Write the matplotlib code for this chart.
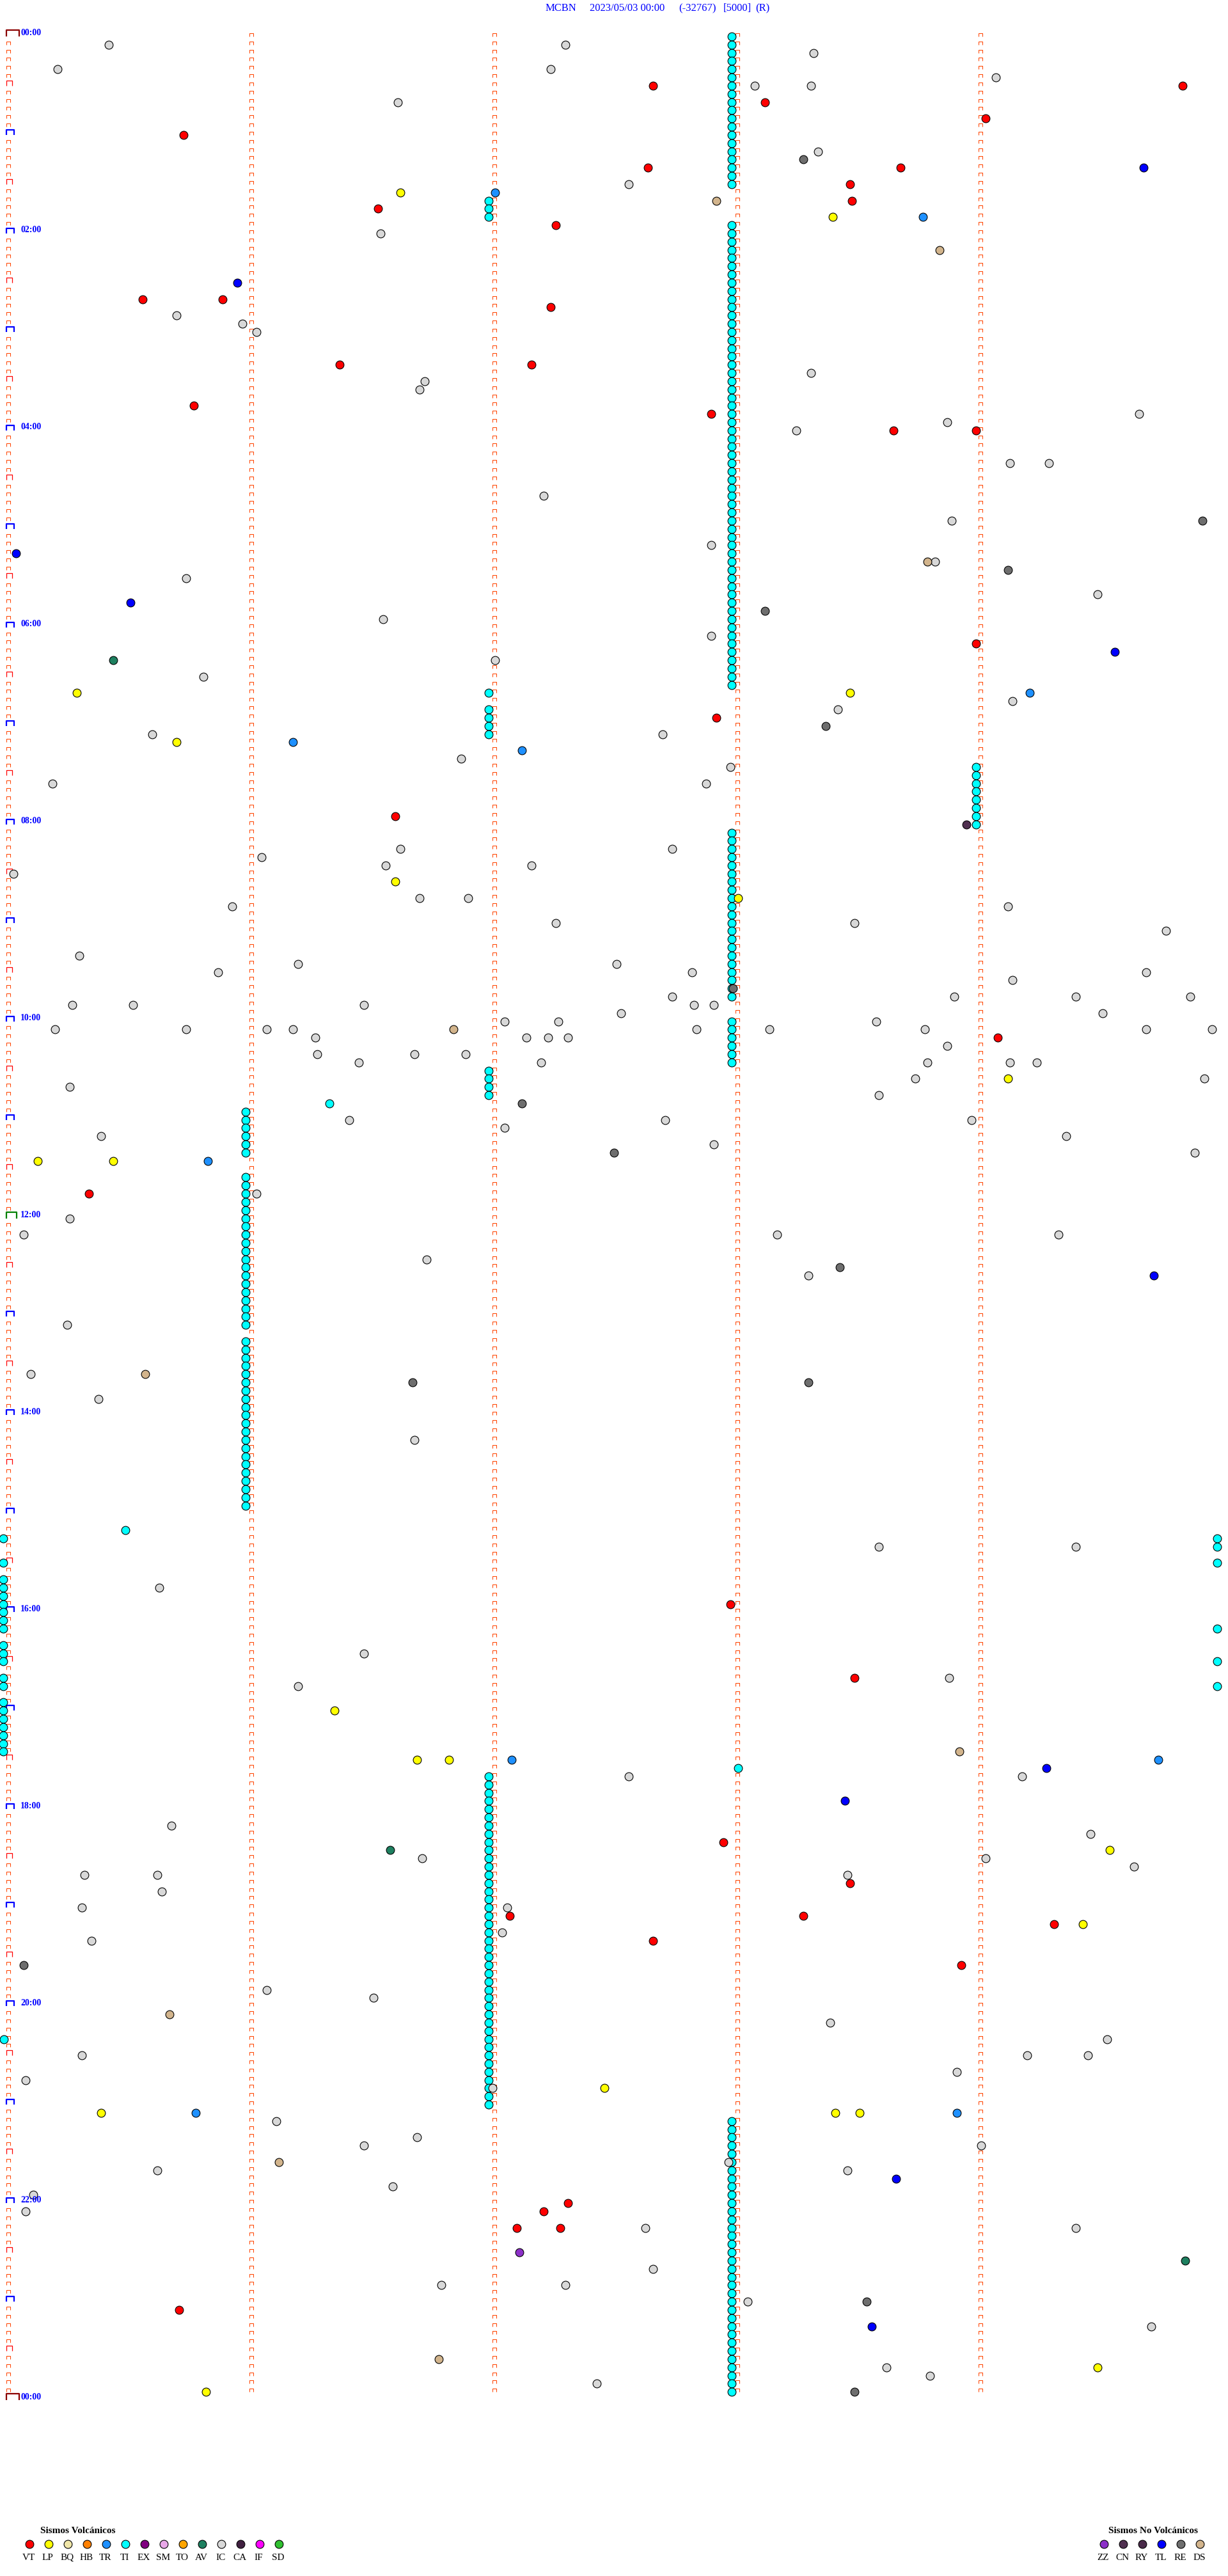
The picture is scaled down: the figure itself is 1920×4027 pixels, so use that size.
"""
Helicorder event map - MCBN 2023/05/03
Each line of the drum holds 5 minutes; the event circles sit at their
minute offset within the line.
"""

import matplotlib
matplotlib.use("Agg")
import matplotlib.pyplot as plt
from matplotlib.path import Path

W, H, DPI = 1920, 4027, 100
PT = 72 / DPI            # points per pixel

# drum layout (pixels)
X0, XSTEP = 10, 380      # x of minute 0, pixels per minute
Y0, YSTEP = 57, 12.83    # y of line 0, pixels per 5-minute line
N_LINES = 288
MARK_COLS = [0, 1, 2, 3, 4]

header = ["MCBN", "2023/05/03 00:00", "(-32767)", "[5000]", "(R)"]
header_x = [853, 922, 1061, 1131, 1181]

hour_labels = ["00:00", "02:00", "04:00", "06:00", "08:00", "10:00", "12:00",
               "14:00", "16:00", "18:00", "20:00", "22:00", "00:00"]
hour_label_lines = [0, 24, 48, 72, 96, 120, 144, 168, 192, 216, 240, 264, 288]

vol_codes = ["VT", "LP", "BQ", "HB", "TR", "TI", "EX", "SM", "TO", "AV",
             "IC", "CA", "IF", "SD"]
vol_colors = ["#FF0000", "#FFFF00", "#F0E6A8", "#FF8000", "#1E90FF", "#00FFFF",
              "#800080", "#E8A8E8", "#FFA500", "#1E8060", "#D8D8D8", "#402040",
              "#FF00FF", "#30C030"]
nonvol_codes = ["ZZ", "CN", "RY", "TL", "RE", "DS"]
nonvol_colors = ["#8C30C8", "#503050", "#4A2A4A", "#0000FF", "#6E6E6E", "#D2B48C"]

# tremor (TI) episodes: line numbers per column
ti_c3 = [0, 1, 2, 3, 4, 5, 6, 7, 8, 9, 10, 11, 12, 13, 14, 15, 16, 17, 18,
         23, 24, 25, 26, 27, 28, 29, 30, 31, 32, 33, 34, 35, 36, 37, 38, 39, 40,
         41, 42, 43, 44, 45, 46, 47, 48, 49, 50, 51, 52, 53, 54, 55, 56, 57, 58,
         59, 60, 61, 62, 63, 64, 65, 66, 67, 68, 69, 70, 71, 72, 73, 74, 75, 76,
         77, 78, 79,
         97, 98, 99, 100, 101, 102, 103, 104, 105, 106, 107, 108, 109, 110, 111,
         112, 113, 114, 115, 116, 117,
         120, 121, 122, 123, 124, 125,
         254, 255, 256, 257, 258, 259, 260, 261, 262, 263, 264, 265, 266, 267,
         268, 269, 270, 271, 272, 273, 274, 275, 276, 277, 278, 279, 280, 281,
         282, 283, 284, 285, 286, 287]
ti_c2 = [20, 21, 22, 80, 82, 83, 84, 85, 126, 127, 128, 129,
         212, 213, 214, 215, 216, 217, 218, 219, 220, 221, 222, 223, 224, 225,
         226, 227, 228, 229, 230, 231, 232, 233, 234, 235, 236, 237, 238, 239,
         240, 241, 242, 243, 244, 245, 246, 247, 248, 249, 250, 251, 252]
ti_c4 = [89, 90, 91, 92, 93, 94, 95, 96]
ti_c1 = [131, 132, 133, 134, 135, 136,
         139, 140, 141, 142, 143, 144, 145, 146, 147, 148, 149, 150, 151, 152,
         153, 154, 155, 156, 157,
         159, 160, 161, 162, 163, 164, 165, 166, 167, 168, 169, 170, 171, 172,
         173, 174, 175, 176, 177, 178, 179]
ti_left = [183, 186, 188, 189, 190, 191, 192, 193, 194, 196, 197, 198, 200, 201,
           203, 204, 205, 206, 207, 208, 209]
ti_right = [183, 184, 186, 194, 198, 201]
ti_cols = [(ti_c3, 2.985), (ti_c2, 1.985), (ti_c4, 3.99), (ti_c1, 0.985),
           (ti_left, -0.012), (ti_right, 4.982)]

# single events: line, minute within line, type
ev_line = [1, 4, 1, 4, 2, 6, 6, 8, 14, 15, 6, 5, 6, 8, 10, 12, 16, 18, 18, 16,
           16, 20, 20, 22, 22, 19, 21, 19, 23, 24, 26, 30, 32, 32, 34, 35, 36,
           33, 40, 40, 42, 43, 41, 45, 46, 48, 48, 47, 48, 46, 52, 52, 56, 59,
           59, 63, 62, 64, 64, 65, 66, 69, 71, 70, 68, 73, 74, 75, 76, 76, 78,
           80, 80, 80, 81, 82, 83, 84, 85, 86, 86, 85, 87, 88, 89, 91, 91, 96,
           95, 99, 100, 99, 101, 101, 103, 102, 105, 105, 106, 106, 105, 108,
           108, 109, 112, 113, 113, 114, 114, 114, 115, 116, 118, 118, 118, 119,
           117, 118, 118, 117, 117, 119, 117, 121, 121, 121, 121, 122, 124, 125,
           124, 121, 124, 120, 122, 120, 122, 122, 125, 121, 121, 120, 121, 123,
           125, 122, 125, 125, 121, 121, 127, 127, 127, 128, 130, 130, 129, 132,
           133, 132, 132, 134, 134, 135, 136, 136, 137, 137, 137, 141, 141, 144,
           146, 146, 146, 149, 150, 151, 151, 157, 163, 163, 164, 164, 166, 171,
           182, 184, 184, 189, 191, 197, 200, 200, 201, 204, 210, 210, 210, 211,
           209, 210, 211, 212, 212, 215, 218, 219, 220, 221, 222, 221, 222, 223,
           224, 224, 224, 225, 226, 228, 228, 229, 229, 230, 230, 231, 232, 232,
           235, 235, 238, 241, 239, 242, 244, 246, 246, 246, 244, 248, 249, 250,
           253, 253, 253, 253, 253, 250, 259, 254, 256, 257, 257, 259, 260, 260,
           262, 261, 263, 264, 265, 265, 267, 267, 267, 267, 270, 271, 272, 274,
           274, 276, 276, 277, 279, 279, 283, 284, 285, 284, 286, 287, 287]
ev_min = [0.42, 0.21, 2.30, 2.24, 3.32, 3.08, 3.31, 3.12, 3.34, 3.28, 2.66, 4.07,
          4.84, 1.61, 4.03, 0.73, 2.64, 2.56, 3.47, 3.68, 4.68, 3.48, 2.92, 3.40,
          3.77, 1.62, 1.53, 2.01, 2.26, 1.54, 3.84, 0.95, 0.56, 0.89, 0.70, 0.97,
          1.03, 2.24, 1.37, 2.16, 1.72, 1.70, 3.31, 0.77, 2.90, 3.25, 3.65, 3.87,
          3.99, 4.66, 4.13, 4.29, 2.21, 3.89, 4.92, 0.04, 2.90, 3.79, 3.82, 4.12,
          0.74, 0.51, 1.55, 3.12, 4.49, 2.90, 3.99, 4.56, 0.44, 2.01, 0.81, 0.29,
          3.47, 4.21, 4.14, 3.42, 2.92, 3.37, 0.60, 0.70, 1.18, 2.70, 2.12, 1.87,
          2.98, 0.19, 2.88, 3.95, 1.60, 2.74, 1.05, 1.62, 1.56, 2.16, 1.60, 0.03,
          1.70, 1.90, 0.93, 4.12, 3.01, 2.26, 3.49, 4.77, 0.30, 1.20, 2.51, 0.87,
          2.82, 4.69, 4.14, 2.99, 0.27, 0.52, 1.47, 2.53, 2.74, 2.83, 2.91, 3.90,
          4.40, 4.51, 4.87, 0.20, 0.74, 1.07, 1.18, 1.27, 1.28, 1.45, 1.68, 1.84,
          1.89, 2.05, 2.14, 2.27, 2.23, 2.31, 2.20, 3.14, 2.84, 3.58, 3.78, 3.87,
          3.79, 4.08, 4.13, 4.24, 4.69, 4.96, 4.12, 3.74, 4.93, 0.26, 2.12, 1.33,
          3.59, 1.41, 2.05, 2.71, 3.97, 0.39, 4.36, 2.91, 2.50, 4.89, 0.13, 0.44,
          0.83, 0.34, 1.03, 0.26, 0.07, 3.17, 4.33, 1.73, 3.43, 3.30, 4.72, 0.25,
          0.57, 0.10, 1.67, 3.30, 0.38, 1.68, 0.49, 3.59, 4.40, 0.63, 2.98, 1.47,
          3.49, 3.88, 1.20, 1.35, 1.69, 1.82, 2.08, 3.01, 3.92, 4.74, 4.28, 4.18,
          2.56, 3.45, 0.68, 4.46, 2.95, 1.58, 1.71, 4.54, 4.03, 4.64, 0.32, 0.62,
          3.46, 3.47, 0.64, 0.31, 2.06, 2.07, 3.28, 4.31, 4.43, 2.04, 0.35, 2.66,
          0.07, 3.93, 1.07, 0.67, 1.51, 3.39, -0.01, 0.31, 4.20, 4.45, 4.53, 3.91,
          0.08, 2.46, 0.39, 0.78, 3.41, 3.51, 3.91, 2.00, 2.97, 1.11, 1.69, 1.47,
          4.01, 1.12, 0.62, 3.46, 1.59, 3.66, 0.11, 2.31, 2.21, 0.08, 2.10, 2.28,
          2.63, 4.40, 2.11, 4.85, 2.66, 1.79, 2.30, 3.05, 3.54, 0.71, 4.71, 3.56,
          1.78, 3.62, 3.80, 4.49, 2.43, 0.82, 3.49]
ev_type = ["IC", "IC", "IC", "IC", "IC", "IC", "IC", "VT", "IC", "RE", "VT", "IC",
           "VT", "IC", "VT", "VT", "VT", "IC", "VT", "VT", "TL", "VT", "DS", "LP",
           "TR", "LP", "VT", "TR", "VT", "IC", "DS", "TL", "VT", "VT", "IC", "IC",
           "IC", "VT", "VT", "VT", "IC", "IC", "IC", "VT", "VT", "IC", "VT", "IC",
           "VT", "IC", "IC", "IC", "IC", "IC", "RE", "TL", "IC", "DS", "IC", "RE",
           "IC", "TL", "IC", "RE", "IC", "IC", "VT", "TL", "AV", "IC", "IC", "LP",
           "LP", "TR", "IC", "IC", "VT", "RE", "IC", "LP", "TR", "IC", "TR", "IC",
           "IC", "IC", "IC", "CN", "VT", "IC", "IC", "IC", "IC", "IC", "LP", "IC",
           "IC", "IC", "IC", "IC", "LP", "IC", "IC", "IC", "IC", "IC", "IC", "IC",
           "IC", "IC", "IC", "RE", "IC", "IC", "IC", "IC", "IC", "IC", "IC", "IC",
           "IC", "IC", "IC", "IC", "IC", "IC", "IC", "IC", "IC", "IC", "IC", "DS",
           "IC", "IC", "IC", "IC", "IC", "IC", "IC", "IC", "IC", "IC", "IC", "IC",
           "IC", "VT", "IC", "IC", "IC", "IC", "LP", "IC", "IC", "IC", "RE", "TI",
           "IC", "IC", "IC", "IC", "IC", "IC", "IC", "IC", "RE", "IC", "LP", "LP",
           "TR", "VT", "IC", "IC", "IC", "IC", "IC", "IC", "RE", "IC", "TL", "IC",
           "DS", "IC", "RE", "RE", "IC", "IC", "TI", "IC", "IC", "IC", "VT", "IC",
           "VT", "IC", "IC", "LP", "LP", "LP", "TR", "TI", "DS", "TR", "TL", "IC",
           "IC", "TL", "IC", "IC", "VT", "AV", "IC", "LP", "IC", "IC", "IC", "IC",
           "IC", "VT", "IC", "IC", "IC", "VT", "VT", "VT", "LP", "IC", "IC", "VT",
           "RE", "VT", "IC", "DS", "IC", "IC", "TI", "IC", "IC", "IC", "IC", "IC",
           "IC", "LP", "LP", "TR", "LP", "LP", "TR", "IC", "IC", "IC", "IC", "IC",
           "IC", "DS", "IC", "IC", "IC", "TL", "IC", "VT", "VT", "IC", "VT", "VT",
           "IC", "IC", "ZZ", "AV", "IC", "IC", "IC", "IC", "RE", "VT", "IC", "TL",
           "DS", "IC", "IC", "LP", "IC", "LP", "RE"]

colors = dict(zip(vol_codes + nonvol_codes, vol_colors + nonvol_colors))


def bracket(w, h):
    """Open-bottom box marker, w x h pixels, anchored at its bottom-left."""
    verts = [(0, 0), (0, h), (w, h), (w, 0)]
    codes = [Path.MOVETO, Path.LINETO, Path.LINETO, Path.LINETO]
    return Path(verts, codes), 2 * max(w, h) * PT


def fig_xy(x, y):
    return x / W, 1 - y / H


fig = plt.figure(figsize=(W / DPI, H / DPI), dpi=DPI)
ax = fig.add_axes([0, 0, 1, 1])
ax.set_xlim(-X0 / XSTEP, (W - X0) / XSTEP)
ax.set_ylim((H - Y0) / YSTEP, -Y0 / YSTEP)
ax.axis("off")

# minute ticks on every drum line
small, small_ms = bracket(6, 5)
for col in MARK_COLS:
    lines = [k for k in range(N_LINES) if col > 0 or k % 6 != 0]
    ax.plot([col] * len(lines), lines, linestyle="none", marker=small,
            markersize=small_ms, markerfacecolor="none",
            markeredgecolor="#FF4500", markeredgewidth=0.75, zorder=2)

half, half_ms = bracket(9, 8)
hour, hour_ms = bracket(12, 8)
day, day_ms = bracket(20, 10)
noon, noon_ms = bracket(16, 10)
for k in range(0, N_LINES + 1, 6):
    if k % 144 == 0:
        mk, ms, c, lw = (noon, noon_ms, "#008000", 1.6) if k == 144 else \
            (day, day_ms, "#8B0000", 1.6)
    elif k % 12 == 0:
        mk, ms, c, lw = hour, hour_ms, "#0000FF", 1.6
    else:
        mk, ms, c, lw = half, half_ms, "#FF0000", 0.9
    ax.plot([0], [k], linestyle="none", marker=mk, markersize=ms,
            markerfacecolor="none", markeredgecolor=c, markeredgewidth=lw,
            zorder=2)

for lab, k in zip(hour_labels, hour_label_lines):
    ax.text(22 / XSTEP, k - 5 / YSTEP, lab, color="#0000FF", fontsize=10,
            fontweight="bold", family="Liberation Serif", ha="left",
            va="center", zorder=4)

# events
circ = dict(linestyle="none", marker="o", markersize=9.2,
            markeredgecolor="black", markeredgewidth=0.8, zorder=3)
for lines, m in ti_cols:
    ax.plot([m] * len(lines), lines, markerfacecolor=colors["TI"], **circ)
for code in colors:
    idx = [i for i, t in enumerate(ev_type) if t == code]
    if idx:
        ax.plot([ev_min[i] for i in idx], [ev_line[i] for i in idx],
                markerfacecolor=colors[code], **circ)

# header
for txt, x in zip(header, header_x):
    fig.text(*fig_xy(x, 13), txt, color="#0000FF", fontsize=12,
             family="Liberation Serif", ha="left", va="center")

# legends
def legend(title, title_x, codes, cols, x0):
    fig.text(*fig_xy(title_x, 3957), title, fontsize=11, fontweight="bold",
             family="Liberation Serif", ha="left", va="center")
    for i, (code, c) in enumerate(zip(codes, cols)):
        x = x0 + 30 * i
        fig.add_artist(plt.Line2D([x / W], [1 - 3977 / H], marker="o",
                                  markersize=9.2, markerfacecolor=c,
                                  markeredgecolor="black",
                                  markeredgewidth=0.8, linestyle="none",
                                  transform=fig.transFigure))
        fig.text(*fig_xy(x - 1, 3998), code, fontsize=11,
                 family="Liberation Serif", ha="center", va="center")


legend("Sismos Volcánicos", 63, vol_codes, vol_colors, 45.7)
legend("Sismos No Volcánicos", 1733, nonvol_codes, nonvol_colors, 1726)

fig.savefig("out.png", dpi=DPI, facecolor="white")
